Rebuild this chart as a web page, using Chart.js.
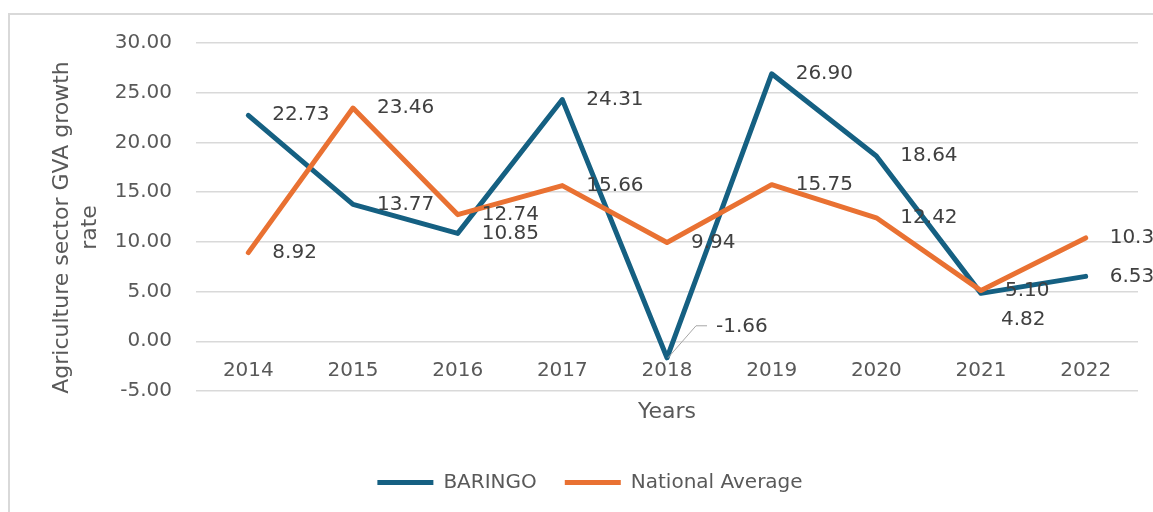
<!DOCTYPE html>
<html>
<head>
<meta charset="utf-8">
<script src="https://cdn.jsdelivr.net/npm/chart.js@4.4.0/dist/chart.umd.min.js"></script>
<style>
  html, body { margin: 0; padding: 0; background: #fff; }
  .wrap { position: relative; width: 1153px; height: 512px; }
</style>
</head>
<body>
<div class="wrap"><canvas id="myChart"></canvas></div>
<script>
// data
const years = ['2014', '2015', '2016', '2017', '2018', '2019', '2020', '2021', '2022'];
const baringo = [22.73, 13.77, 10.85, 24.31, -1.66, 26.90, 18.64, 4.82, 6.53];
const national = [8.92, 23.46, 12.74, 15.66, 9.94, 15.75, 12.42, 5.10, 10.39];
const yMin = -5, yMax = 30, yStep = 5;

const FONT = '"DejaVu Sans", Verdana, sans-serif';
const GREY = '#595959';

// a couple of labels were moved by hand in the original
const nudge = {
    '0-4': {dx: 25, dy: -31, leader: true},
    '0-7': {dx: -4, dy: 26}
};

// light frame round the chart
const frame = {
    id: 'frame',
    beforeDraw(chart){
        const c = chart.ctx;
        c.save();
        c.strokeStyle = '#d9d9d9';
        c.lineWidth = 2;
        c.strokeRect(9, 14, 1400, 800);
        c.restore();
    }
};

// value labels to the right of each point
const valueLabels = {
    id: 'valueLabels',
    afterDatasetsDraw(chart){
        const c = chart.ctx;
        c.save();
        c.font = '20px ' + FONT;
        c.fillStyle = '#404040';
        c.textAlign = 'left';
        c.textBaseline = 'middle';
        chart.data.datasets.forEach((ds, di) => {
            chart.getDatasetMeta(di).data.forEach((pt, i) => {
                const n = nudge[di + '-' + i] || {dx: 0, dy: 0};
                const x = pt.x + 24 + n.dx;
                const y = pt.y + n.dy;
                if (n.leader) {
                    c.strokeStyle = '#a6a6a6';
                    c.lineWidth = 1;
                    c.beginPath();
                    c.moveTo(pt.x + 1, pt.y);
                    c.lineTo(x - 20, y - 1);
                    c.lineTo(x - 9, y - 1);
                    c.stroke();
                }
                c.fillText(ds.data[i].toFixed(2), x, y);
            });
        });
        c.restore();
    }
};

const ctx = document.getElementById('myChart').getContext('2d');
const myChart = new Chart(ctx, {
    type: 'line',
    data: {
        labels: years,
        datasets: [{
            label: 'BARINGO',
            data: baringo,
            borderColor: '#156082',
            backgroundColor: '#156082',
            borderWidth: 5,
            borderCapStyle: 'round',
            borderJoinStyle: 'round',
            pointRadius: 0,
            order: 1
        }, {
            label: 'National Average',
            data: national,
            borderColor: '#e97132',
            backgroundColor: '#e97132',
            borderWidth: 5,
            borderCapStyle: 'round',
            borderJoinStyle: 'round',
            pointRadius: 0,
            order: 0
        }]
    },
    options: {
        responsive: true,
        maintainAspectRatio: false,
        animation: false,
        layout: {
            padding: {left: 42, right: 15, top: 43, bottom: 9.5}
        },
        scales: {
            x: {
                position: {y: 0},
                offset: true,
                grid: {display: false, drawTicks: false},
                border: {display: false},
                ticks: {color: GREY, font: {family: FONT, size: 20}, padding: 18, maxRotation: 0},
                title: {
                    display: true, text: 'Years', color: GREY,
                    font: {family: FONT, size: 22, lineHeight: 1},
                    padding: {top: 0, bottom: 0}
                }
            },
            y: {
                min: yMin,
                max: yMax,
                grid: {color: '#d9d9d9', lineWidth: 1.5, drawTicks: false},
                border: {display: false},
                ticks: {
                    stepSize: yStep, color: GREY, padding: 24,
                    font: {family: FONT, size: 20},
                    callback: v => v.toFixed(2)
                },
                title: {
                    display: true,
                    // trailing spaces push the rotated title a bit lower, as in the original
                    text: ['Agriculture sector GVA growth   ', 'rate   '],
                    color: GREY,
                    font: {family: FONT, size: 22, lineHeight: 1.27},
                    padding: {top: 6, bottom: 0}
                },
                afterFit(s){ s.width = 154; }
            }
        },
        plugins: {
            tooltip: {enabled: false},
            legend: {
                position: 'bottom',
                title: {display: true, text: ' ', font: {size: 10, lineHeight: 1}, padding: {top: 22, bottom: 21.5}},
                labels: {
                    usePointStyle: true,
                    pointStyle: 'line',
                    pointStyleWidth: 56,
                    padding: 28,
                    color: GREY,
                    font: {family: FONT, size: 20},
                    sort: (a, b) => a.datasetIndex - b.datasetIndex
                }
            }
        }
    },
    plugins: [frame, valueLabels]
});
</script>
</body>
</html>
